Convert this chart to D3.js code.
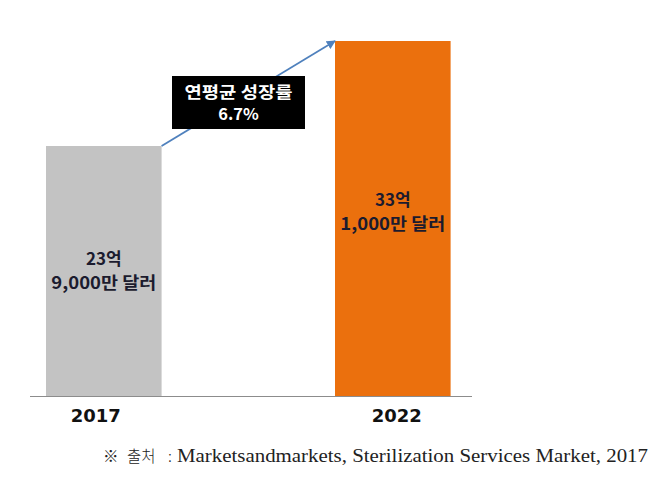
<!DOCTYPE html>
<html><head><meta charset="utf-8">
<script src="https://cdn.jsdelivr.net/npm/d3@7"></script>
<style>body{margin:0;background:#fff}svg{display:block}</style>
</head><body>
<svg id="c" width="669" height="497"></svg>
<script>
const categories = ["2017", "2022"];
const values = [23.9, 33.1];
const labelLine1 = ["23억", "33억"];
const labelLine2 = ["9,000만 달러", "1,000만 달러"];
const colors = ["#c3c3c3", "#eb700d"];
const cagrText = ["연평균 성장률", "6.7%"];
const sourceParts = ["※", "출처", ":", "Marketsandmarkets, Sterilization Services Market, 2017"];

const svg = d3.select("#c");
const x = d3.scaleBand().domain(categories).range([46, 450.6]).paddingInner(0.6).paddingOuter(0);
const y = d3.scaleLinear().domain([2, 33.1]).range([396, 41]);

svg.append("defs").append("marker").attr("id","ah").attr("viewBox","0 0 10 10")
  .attr("refX",9).attr("refY",5).attr("markerWidth",5).attr("markerHeight",5).attr("orient","auto")
  .append("path").attr("d","M0,0L10,5L0,10z").attr("fill","#4f81bd");

svg.selectAll("rect.bar").data(categories).join("rect").attr("class","bar")
  .attr("x", d => x(d)).attr("width", x.bandwidth())
  .attr("y", (d,i) => y(values[i])).attr("height", (d,i) => y(2) - y(values[i]))
  .attr("fill", (d,i) => colors[i]);

svg.append("line").attr("x1",30).attr("x2",472).attr("y1",396.5).attr("y2",396.5)
  .attr("stroke","#8c8c8c").attr("stroke-width",1);

// arrow
svg.append("line")
  .attr("x1", x(categories[0]) + x.bandwidth()).attr("y1", y(values[0]))
  .attr("x2", x(categories[1])).attr("y2", y(values[1]))
  .attr("stroke","#4f81bd").attr("stroke-width",1.8).attr("marker-end","url(#ah)");

// CAGR box
svg.append("rect").attr("x",172).attr("y",76).attr("width",133).attr("height",53).attr("fill","#000");
[97.5, 120].forEach((yy, k) => {
  const t = svg.append("text").attr("x",238.5).attr("y",yy).attr("text-anchor","middle")
    .attr("font-family","'Noto Sans CJK KR', sans-serif").attr("font-weight","bold").attr("font-size",16.4)
    .attr("fill","#fff").text(cagrText[k]);
  if (k === 0) t.attr("textLength", 108).attr("lengthAdjust","spacingAndGlyphs");
});

// bar labels
const base1 = [265, 206];
categories.forEach((c,i) => {
  const cx = x(c) + x.bandwidth()/2;
  [labelLine1[i], labelLine2[i]].forEach((s, k) => {
    const t = svg.append("text").attr("text-anchor","middle").attr("x", cx).attr("y", base1[i] + k*23.5)
      .attr("font-family","'Noto Sans CJK KR', sans-serif").attr("font-weight","bold").attr("font-size",17)
      .attr("fill","#1b1b2e").text(s);
    if (k === 1) t.attr("textLength", 105).attr("lengthAdjust","spacingAndGlyphs");
  });
});

// category labels
svg.selectAll("text.cat").data(categories).join("text").attr("class","cat")
  .attr("x", (d,i) => x(d) + x.bandwidth()/2 + (i===0?-8:4)).attr("y", 422)
  .attr("text-anchor","middle").attr("font-family","'DejaVu Sans', sans-serif")
  .attr("font-weight","bold").attr("font-size",18).attr("fill","#111").text(d => d);

// source
const srcX = [103, 127, 168, 177];
sourceParts.forEach((s, k) => {
  const t = svg.append("text").attr("x", srcX[k]).attr("y", 462)
    .attr("font-family", k === 3 ? "'Liberation Serif', serif" : "'Noto Sans CJK KR', 'Liberation Serif', serif")
    .attr("font-weight", k === 3 ? "normal" : 300)
    .attr("font-size", k === 3 ? 18 : 15.5).attr("fill","#222").text(s);
  if (k === 3) t.attr("textLength", 471).attr("lengthAdjust", "spacingAndGlyphs");
});
</script>
</body></html>
